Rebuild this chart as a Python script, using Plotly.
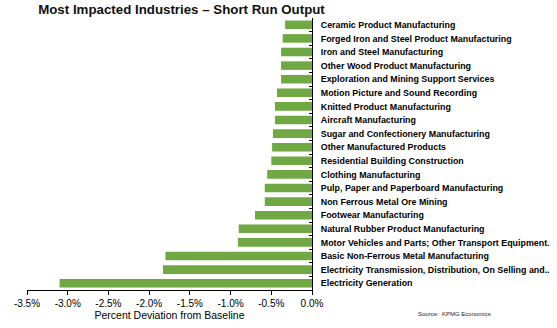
import plotly.graph_objects as go

industries = [
    "Ceramic Product Manufacturing",
    "Forged Iron and Steel Product Manufacturing",
    "Iron and Steel Manufacturing",
    "Other Wood Product Manufacturing",
    "Exploration and Mining Support Services",
    "Motion Picture and Sound Recording",
    "Knitted Product Manufacturing",
    "Aircraft Manufacturing",
    "Sugar and Confectionery Manufacturing",
    "Other Manufactured Products",
    "Residential Building Construction",
    "Clothing Manufacturing",
    "Pulp, Paper and Paperboard Manufacturing",
    "Non Ferrous Metal Ore Mining",
    "Footwear Manufacturing",
    "Natural Rubber Product Manufacturing",
    "Motor Vehicles and Parts; Other Transport Equipment.",
    "Basic Non-Ferrous Metal Manufacturing",
    "Electricity Transmission, Distribution, On Selling and..",
    "Electricity Generation",
]
deviation_pct = [-0.33, -0.36, -0.38, -0.38, -0.38, -0.43, -0.455, -0.455, -0.48, -0.49,
                 -0.50, -0.55, -0.58, -0.58, -0.70, -0.90, -0.91, -1.80, -1.83, -3.10]
x_ticks = [-3.5, -3.0, -2.5, -2.0, -1.5, -1.0, -0.5, 0.0]
x_tick_labels = ["-3.5%", "-3.0%", "-2.5%", "-2.0%", "-1.5%", "-1.0%", "-0.5%", "0.0%"]

W, H = 557, 328
L, R, T, B = 27, 245, 18, 38
pw, ph = W - L - R, H - T - B

fig = go.Figure(go.Bar(
    x=deviation_pct, y=industries, orientation="h",
    marker=dict(color="#70A844", line=dict(width=0)),
))

fig.update_layout(
    width=W, height=H,
    margin=dict(l=L, r=R, t=T, b=B, autoexpand=False),
    paper_bgcolor="white", plot_bgcolor="white",
    bargap=0.37,
    showlegend=False,
    font=dict(family="Liberation Sans, Arial, sans-serif", color="black"),
    title=dict(text="<b>Most Impacted Industries – Short Run Output</b>",
               x=181.5/W, xanchor="center", y=1-9/H, yanchor="middle",
               xref="container", yref="container",
               font=dict(size=13.3, color="#111111")),
    xaxis=dict(range=[-3.5, 0], tickvals=x_ticks, ticktext=x_tick_labels, automargin=False,
               showgrid=False, zeroline=False, showline=True, linecolor="black", linewidth=1,
               ticks="outside", ticklen=4, tickcolor="black",
               tickfont=dict(size=10, color="black"),
               title=dict(text="Percent Deviation from Baseline", font=dict(size=10.5, color="black"), standoff=2)),
    yaxis=dict(categoryorder="array", categoryarray=industries, autorange="reversed", automargin=False,
               side="right", showgrid=False, zeroline=False, showline=True,
               linecolor="black", linewidth=1, ticks="inside", ticklen=3, tickcolor="black",
               tickson="boundaries", ticklabelstandoff=6,
               tickfont=dict(size=8.9, color="black", weight="bold")),
    annotations=[dict(text="Source:  KPMG Economics", x=(493 - L)/pw, y=(H - B - 314)/ph,
                      xref="paper", yref="paper", xanchor="right", yanchor="middle",
                      showarrow=False, font=dict(size=6, color="#222222"))],
)

fig.write_html("out.html")
